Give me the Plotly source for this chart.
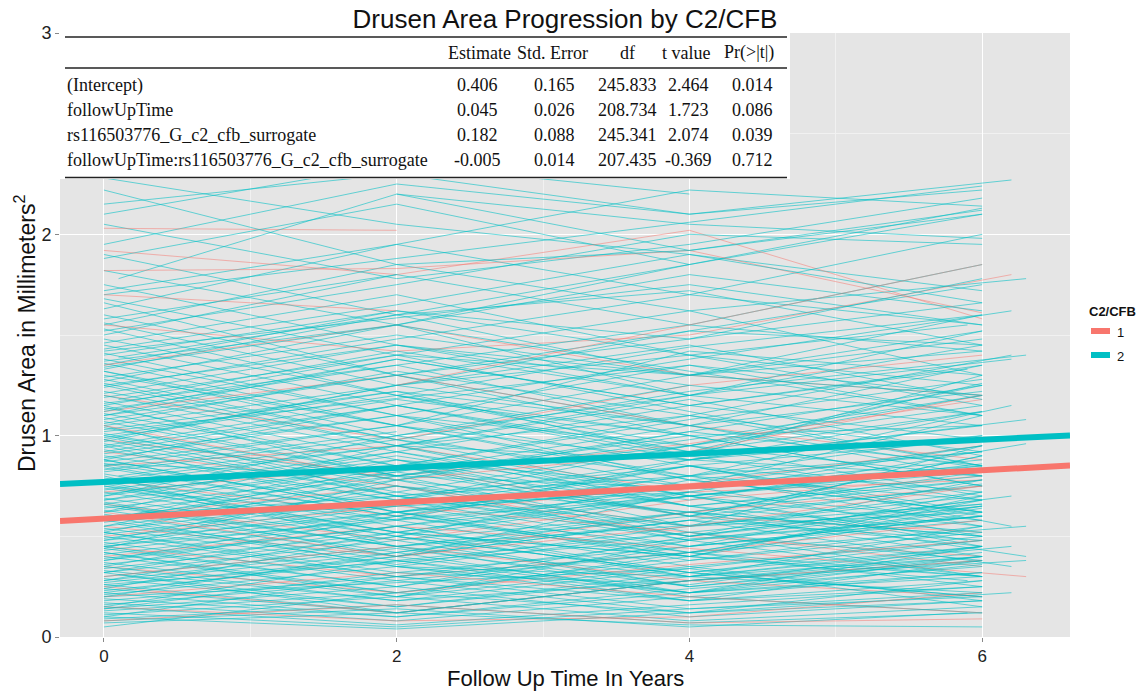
import plotly.graph_objects as go

# ---------------------------------------------------------------------------
# Visit plans (follow-up times in years) referenced by the subject records
# ---------------------------------------------------------------------------
visit_plans = {
    "a": [0, 2, 4, 6],
    "b": [0, 2, 4],
    "c": [0, 2],
    "d": [0, 2, 4, 6.2],
    "e": [0, 4, 6],
    "f": [2, 4, 6],
    "g": [0, 6],
    "h": [0.1, 2, 4, 6],
    "i": [0, 2, 6],
    "j": [0, 4],
    "k": [0, 2, 4, 6.3],
    "l": [0, 2, 4, 5.9],
}

# Drusen area (mm^2) per subject, C2/CFB = 2
teal_upper = [
    ("a", [2.28, 2.05, 1.90, 1.72]), ("a", [2.15, 2.30, 2.10, 2.22]), ("c", [2.22, 1.85]),
    ("a", [2.05, 1.78, 1.95, 2.18]), ("d", [1.95, 2.25, 2.10, 2.27]), ("a", [1.90, 1.60, 1.72, 1.45]),
    ("b", [2.10, 2.35, 2.20]), ("a", [1.88, 2.15, 1.85, 2.13]), ("a", [1.82, 1.55, 1.85, 2.10]),
    ("h", [1.78, 2.20, 1.92, 2.12]), ("a", [1.75, 1.45, 1.30, 1.48]), ("a", [1.72, 1.95, 2.22, 2.14]),
    ("g", [1.70, 2.24]), ("a", [1.68, 1.40, 1.62, 1.30]), ("i", [1.66, 1.30, 1.66]),
    ("a", [1.63, 1.95, 1.70, 2.00]), ("b", [1.60, 1.30, 1.05]), ("a", [1.58, 1.80, 1.55, 1.85]),
    ("a", [1.56, 1.25, 1.52, 1.75]), ("k", [1.55, 1.85, 1.62, 1.78]), ("a", [1.53, 1.20, 1.00, 1.05]),
    ("a", [1.52, 1.75, 2.00, 1.95]), ("c", [1.50, 1.80]), ("a", [1.48, 1.20, 1.44, 1.60]),
    ("a", [1.46, 1.70, 1.40, 1.25]), ("d", [1.45, 1.15, 1.38, 1.62]), ("a", [1.43, 1.65, 1.90, 1.66]),
    ("e", [1.42, 1.75, 1.55]), ("a", [1.41, 1.10, 1.35, 1.20]), ("a", [1.40, 1.62, 1.48, 1.78]),
    ("h", [1.39, 1.60, 1.30, 1.42]), ("a", [1.38, 1.10, 0.95, 1.20]), ("a", [1.37, 1.55, 1.80, 1.62]),
    ("a", [1.36, 1.05, 1.30, 1.52]), ("l", [1.35, 1.62, 1.40, 1.55]), ("a", [1.34, 1.55, 1.20, 1.05]),
    ("b", [1.33, 1.60, 1.85]), ("a", [1.32, 1.05, 1.42, 1.30]),
]

teal_middle = [
    ("a", [1.30, 1.05, 0.88, 1.12]), ("a", [1.29, 1.50, 1.30, 1.60]), ("k", [1.28, 0.98, 1.22, 1.40]),
    ("a", [1.27, 1.55, 1.32, 1.10]), ("a", [1.26, 0.98, 0.80, 0.92]), ("d", [1.25, 1.45, 1.20, 1.38]),
    ("a", [1.24, 1.48, 1.70, 1.55]), ("a", [1.22, 0.95, 1.18, 0.90]), ("b", [1.21, 1.45, 1.25]),
    ("a", [1.20, 0.92, 1.15, 1.35]), ("a", [1.19, 1.40, 1.12, 0.85]), ("h", [1.18, 1.42, 1.20, 1.52]),
    ("a", [1.17, 0.88, 0.75, 0.88]), ("a", [1.16, 1.35, 1.55, 1.42]), ("i", [1.15, 1.40, 1.20]),
    ("a", [1.14, 0.85, 1.08, 1.28]), ("a", [1.13, 1.35, 1.05, 0.80]), ("l", [1.12, 1.38, 1.15, 1.33]),
    ("a", [1.11, 0.85, 1.10, 0.92]), ("a", [1.10, 1.30, 1.52, 1.45]), ("c", [1.09, 0.80]),
    ("a", [1.08, 1.30, 1.00, 0.75]), ("a", [1.07, 0.80, 0.95, 0.70]), ("d", [1.06, 1.32, 1.10, 1.40]),
    ("a", [1.05, 1.25, 1.45, 1.18]), ("a", [1.04, 0.78, 1.02, 1.25]), ("a", [1.03, 1.22, 0.90, 0.68]),
    ("e", [1.02, 1.35, 1.10]), ("a", [1.01, 0.75, 0.62, 0.78]), ("a", [1.00, 1.22, 1.05, 1.35]),
    ("a", [0.99, 1.20, 0.92, 1.12]), ("h", [0.98, 0.72, 0.95, 1.15]), ("a", [0.97, 1.25, 1.40, 1.15]),
    ("a", [0.96, 0.70, 0.85, 0.60]), ("b", [0.95, 1.18, 1.00]), ("a", [0.94, 1.15, 0.92, 1.26]),
    ("a", [0.93, 0.68, 0.88, 1.05]), ("k", [0.92, 1.15, 0.88, 1.08]), ("a", [0.91, 1.10, 0.78, 0.62]),
    ("f", [1.20, 0.95, 1.25]),
]

teal_lower = [
    ("a", [0.90, 0.68, 0.95, 0.80]), ("a", [0.89, 1.10, 0.85, 0.98]), ("a", [0.88, 0.62, 0.75, 0.50]),
    ("d", [0.87, 1.05, 0.80, 1.15]), ("a", [0.86, 0.65, 0.85, 0.62]), ("a", [0.85, 1.05, 0.78, 0.92]),
    ("a", [0.84, 0.60, 0.80, 1.00]), ("c", [0.83, 1.02]), ("a", [0.82, 1.00, 0.75, 1.10]),
    ("a", [0.81, 0.58, 0.70, 0.45]), ("h", [0.80, 0.98, 0.70, 0.84]), ("a", [0.79, 0.55, 0.75, 0.95]),
    ("a", [0.78, 0.95, 0.70, 0.86]), ("b", [0.77, 0.52, 0.72]), ("a", [0.76, 0.95, 0.65, 0.52]),
    ("a", [0.75, 0.58, 0.88, 1.00]), ("l", [0.74, 0.52, 0.70, 0.48]), ("a", [0.73, 0.92, 0.65, 0.78]),
    ("a", [0.72, 0.50, 0.70, 0.85]), ("a", [0.71, 0.88, 0.60, 0.45]), ("k", [0.70, 0.90, 0.68, 0.96]),
    ("a", [0.69, 0.48, 0.62, 0.40]), ("a", [0.68, 0.85, 0.60, 0.75]), ("i", [0.67, 0.45, 0.66]),
    ("a", [0.66, 0.85, 0.55, 0.70]), ("a", [0.65, 0.45, 0.62, 0.82]), ("a", [0.64, 0.82, 0.60, 0.90]),
    ("d", [0.63, 0.42, 0.58, 0.35]), ("a", [0.62, 0.80, 0.52, 0.66]), ("a", [0.61, 0.40, 0.58, 0.76]),
    ("e", [0.60, 0.80, 0.55]), ("a", [0.59, 0.78, 0.50, 0.68]), ("a", [0.58, 0.38, 0.52, 0.30]),
    ("a", [0.57, 0.75, 0.48, 0.60]), ("h", [0.56, 0.36, 0.55, 0.72]), ("a", [0.55, 0.72, 0.50, 0.78]),
    ("a", [0.54, 0.35, 0.52, 0.38]), ("b", [0.53, 0.70, 0.48]), ("a", [0.52, 0.32, 0.45, 0.60]),
    ("a", [0.51, 0.68, 0.45, 0.58]), ("a", [0.50, 0.30, 0.48, 0.65]), ("k", [0.49, 0.66, 0.42, 0.55]),
    ("a", [0.48, 0.62, 0.40, 0.70]), ("a", [0.47, 0.28, 0.42, 0.25]), ("c", [0.46, 0.65]),
    ("a", [0.45, 0.62, 0.38, 0.52]), ("a", [0.44, 0.25, 0.45, 0.60]), ("a", [0.43, 0.60, 0.40, 0.62]),
    ("l", [0.42, 0.22, 0.40, 0.28]), ("a", [0.41, 0.58, 0.35, 0.48]), ("a", [0.40, 0.22, 0.38, 0.55]),
    ("a", [0.39, 0.55, 0.32, 0.48]), ("d", [0.38, 0.55, 0.30, 0.45]), ("a", [0.37, 0.20, 0.35, 0.18]),
    ("a", [0.36, 0.52, 0.30, 0.55]), ("i", [0.35, 0.18, 0.38]), ("a", [0.34, 0.50, 0.25, 0.40]),
    ("a", [0.33, 0.18, 0.34, 0.50]), ("a", [0.32, 0.48, 0.25, 0.38]), ("h", [0.31, 0.15, 0.32, 0.20]),
    ("a", [0.30, 0.45, 0.22, 0.36]), ("a", [0.29, 0.15, 0.30, 0.45]), ("b", [0.28, 0.44, 0.25]),
    ("a", [0.27, 0.42, 0.20, 0.32]), ("a", [0.26, 0.12, 0.28, 0.40]), ("a", [0.25, 0.40, 0.22, 0.30]),
    ("k", [0.24, 0.12, 0.28, 0.38]), ("a", [0.23, 0.38, 0.18, 0.28]), ("a", [0.22, 0.10, 0.24, 0.35]),
    ("a", [0.21, 0.35, 0.18, 0.25]), ("e", [0.20, 0.34, 0.15]), ("a", [0.19, 0.10, 0.22, 0.32]),
    ("a", [0.18, 0.30, 0.14, 0.22]), ("a", [0.17, 0.08, 0.20, 0.12]), ("d", [0.16, 0.28, 0.12, 0.22]),
    ("a", [0.15, 0.06, 0.16, 0.25]), ("a", [0.14, 0.25, 0.10, 0.18]), ("c", [0.13, 0.22]),
    ("a", [0.12, 0.05, 0.14, 0.20]), ("a", [0.11, 0.20, 0.08, 0.15]), ("a", [0.10, 0.04, 0.12, 0.18]),
    ("a", [0.09, 0.16, 0.07, 0.12]), ("l", [0.08, 0.14, 0.05, 0.12]), ("a", [0.07, 0.12, 0.06, 0.05]),
]

teal_crossing = [
    ("f", [0.62, 0.75, 0.85]), ("f", [0.35, 0.30, 0.40]), ("f", [0.95, 0.88, 0.80]),
    ("j", [0.58, 0.72]), ("j", [0.86, 0.74]), ("g", [0.26, 0.60]),
    ("a", [0.44, 0.78, 0.62, 0.50]), ("a", [0.32, 0.55, 0.70, 0.82]), ("a", [0.76, 0.52, 0.40, 0.30]),
    ("a", [0.58, 0.82, 1.05, 1.22]), ("a", [0.66, 0.45, 0.30, 0.22]), ("a", [0.22, 0.40, 0.58, 0.48]),
    ("a", [0.98, 0.70, 0.55, 0.62]), ("a", [0.52, 0.30, 0.42, 0.64]), ("a", [0.14, 0.32, 0.26, 0.45]),
    ("a", [0.88, 0.62, 0.80, 0.68]), ("f", [2.20, 2.05, 1.98]), ("f", [1.85, 1.92, 2.10]),
    ("a", [1.25, 0.95, 1.10, 0.85]), ("a", [0.35, 0.60, 0.85, 0.72]), ("a", [0.80, 0.45, 0.60, 0.90]),
    ("b", [0.62, 0.95, 1.20]), ("a", [1.05, 0.70, 0.50, 0.65]), ("a", [0.48, 0.75, 0.55, 0.95]),
    ("a", [0.28, 0.52, 0.40, 0.68]), ("d", [0.95, 0.62, 0.85, 0.55]), ("a", [0.70, 1.00, 1.25, 1.10]),
    ("a", [0.15, 0.38, 0.22, 0.45]), ("a", [1.15, 0.80, 1.00, 0.75]), ("k", [0.55, 0.85, 0.65, 0.40]),
    ("a", [0.42, 0.20, 0.48, 0.30]), ("a", [0.88, 1.15, 0.90, 1.30]), ("a", [0.24, 0.50, 0.32, 0.20]),
    ("h", [0.65, 0.40, 0.72, 0.58]), ("a", [1.32, 1.00, 1.20, 1.45]), ("a", [0.52, 0.80, 1.02, 0.85]),
    ("a", [0.10, 0.30, 0.18, 0.38]), ("a", [0.75, 0.50, 0.32, 0.45]), ("l", [0.98, 1.25, 1.05, 0.85]),
    ("a", [0.38, 0.62, 0.45, 0.72]), ("a", [0.60, 0.35, 0.22, 0.40]), ("a", [1.10, 1.38, 1.15, 0.98]),
    ("e", [0.45, 0.72, 0.95]), ("a", [0.20, 0.42, 0.62, 0.50]), ("a", [0.85, 0.60, 0.42, 0.65]),
    ("a", [0.32, 0.12, 0.28, 0.42]), ("f", [0.50, 0.78, 0.62]), ("f", [0.20, 0.42, 0.30]),
    ("a", [0.68, 0.92, 0.70, 0.55]), ("a", [0.05, 0.22, 0.12, 0.28]), ("d", [0.45, 0.25, 0.50, 0.70]),
    ("a", [1.00, 0.78, 0.98, 1.20]), ("a", [0.58, 0.88, 0.65, 0.80]),
]

# Drusen area (mm^2) per subject, C2/CFB = 1
red_subjects = [
    ("c", [2.03, 2.02]), ("a", [1.92, 1.80, 2.02, 1.58]), ("a", [1.82, 1.83, 1.92, 1.61]),
    ("d", [1.55, 1.42, 1.50, 1.80]), ("a", [1.35, 1.55, 1.30, 1.20]), ("a", [1.20, 0.98, 1.25, 1.40]),
    ("a", [1.12, 1.30, 1.05, 0.88]), ("a", [0.98, 0.80, 0.96, 1.18]), ("b", [0.92, 0.75, 0.55]),
    ("a", [0.85, 0.95, 0.72, 0.78]), ("a", [0.78, 0.60, 0.76, 0.95]), ("a", [0.72, 0.85, 0.60, 0.52]),
    ("a", [0.66, 0.48, 0.68, 0.80]), ("h", [0.60, 0.75, 0.50, 0.40]), ("a", [0.55, 0.40, 0.62, 0.75]),
    ("a", [0.50, 0.65, 0.52, 0.35]), ("a", [0.45, 0.30, 0.42, 0.58]), ("k", [0.40, 0.55, 0.44, 0.30]),
    ("a", [0.35, 0.22, 0.36, 0.48]), ("a", [0.30, 0.45, 0.28, 0.20]), ("a", [0.25, 0.12, 0.28, 0.38]),
    ("a", [0.20, 0.32, 0.20, 0.12]), ("a", [0.15, 0.08, 0.10, 0.22]), ("a", [0.08, 0.16, 0.07, 0.09]),
    ("c", [1.70, 1.62]), ("f", [1.25, 1.55, 1.85]), ("a", [0.62, 0.40, 0.55, 0.75]),
    ("a", [1.05, 0.78, 0.92, 1.20]),
]

# Mixed-model coefficient table
table_terms = ["(Intercept)", "followUpTime", "rs116503776_G_c2_cfb_surrogate",
               "followUpTime:rs116503776_G_c2_cfb_surrogate"]
table_estimate = [0.406, 0.045, 0.182, -0.005]
table_std_error = [0.165, 0.026, 0.088, 0.014]
table_df = [245.833, 208.734, 245.341, 207.435]
table_t_value = [2.464, 1.723, 2.074, -0.369]
table_p_value = [0.014, 0.086, 0.039, 0.712]
table_header = ["Estimate", "Std. Error", "df", "t value", "Pr(>|t|)"]

groups = ["1", "2"]
group_colors = {"1": "#F8766D", "2": "#00BFC4"}
thin_colors = {"1": "rgba(248,118,109,0.50)", "2": "rgba(0,191,196,0.58)"}

x_range = [-0.30, 6.60]
y_range = [0, 3]

fig = go.Figure()

# Subject trajectories; red subjects are spread through the teal ones in drawing order
teal_all = teal_upper + teal_middle + teal_lower + teal_crossing
ordered = []
ri = 0
red_every = max(1, len(teal_all) // len(red_subjects))
for i, subj in enumerate(teal_all):
    ordered.append(("2", subj))
    if (i + 1) % red_every == 0 and ri < len(red_subjects):
        ordered.append(("1", red_subjects[ri]))
        ri += 1
while ri < len(red_subjects):
    ordered.append(("1", red_subjects[ri]))
    ri += 1

for grp, (plan, areas) in ordered:
    fig.add_trace(go.Scatter(
        x=visit_plans[plan], y=areas, mode="lines",
        line=dict(color=thin_colors[grp], width=1),
        showlegend=False, hoverinfo="skip",
    ))

# Fitted population lines per genotype group from the coefficient table
for grp in groups:
    code = int(grp)
    intercept = table_estimate[0] + table_estimate[2] * code
    slope = table_estimate[1] + table_estimate[3] * code
    fig.add_trace(go.Scatter(
        x=x_range, y=[intercept + slope * x for x in x_range], mode="lines",
        line=dict(color=group_colors[grp], width=6),
        showlegend=False, hoverinfo="skip",
    ))

# Geometry of the plotting panel in pixels
W, H = 1147, 694
L, R, T, B = 60, 77, 33, 57
pw, ph = W - L - R, H - T - B


def px(xp):
    return (xp - L) / pw


def py(yp):
    return (H - B - yp) / ph


shapes = []
annotations = []

# Coefficient table with white backing
shapes.append(dict(type="rect", xref="paper", yref="paper",
                   x0=px(L), x1=px(790), y0=py(179), y1=py(T),
                   fillcolor="white", line=dict(width=0), layer="above"))
for yl in (37, 68, 177.5):
    shapes.append(dict(type="line", xref="paper", yref="paper",
                       x0=px(65), x1=px(787), y0=py(yl), y1=py(yl),
                       line=dict(color="#222222", width=1.5), layer="above"))

serif = "Liberation Serif, Times New Roman, serif"
tfont = dict(family=serif, size=18, color="#111111")
header_x = [479, 552, 627, 686, 749]
value_x = [477, 554, 627, 688, 752]
row_y = [85, 110, 135, 160]

for hx, label in zip(header_x, table_header):
    annotations.append(dict(xref="paper", yref="paper", x=px(hx), y=py(53),
                            text=label, showarrow=False, xanchor="center",
                            yanchor="middle", font=tfont))
for r, term in enumerate(table_terms):
    annotations.append(dict(xref="paper", yref="paper", x=px(65), y=py(row_y[r]),
                            text=term, showarrow=False, xanchor="left",
                            yanchor="middle", font=tfont))
    cells = [f"{table_estimate[r]:.3f}", f"{table_std_error[r]:.3f}",
             f"{table_df[r]:.3f}", f"{table_t_value[r]:.3f}", f"{table_p_value[r]:.3f}"]
    for cx, cell in zip(value_x, cells):
        annotations.append(dict(xref="paper", yref="paper", x=px(cx), y=py(row_y[r]),
                                text=cell, showarrow=False, xanchor="center",
                                yanchor="middle", font=tfont))

sans = "Liberation Sans, Arial, sans-serif"

# Axis titles
annotations.append(dict(xref="paper", yref="paper", x=px(565), y=py(678),
                        text="Follow Up Time In Years", showarrow=False,
                        xanchor="center", yanchor="middle",
                        font=dict(family=sans, size=22, color="#111111")))
annotations.append(dict(xref="paper", yref="paper", x=px(25), y=py(334),
                        text="Drusen Area in Millimeters<sup>2</sup>", showarrow=False,
                        textangle=-90, xanchor="center", yanchor="middle",
                        font=dict(family=sans, size=23, color="#111111")))

# Legend
annotations.append(dict(xref="paper", yref="paper", x=px(1087), y=py(311),
                        text="<b>C2/CFB</b>", showarrow=False, xanchor="left",
                        yanchor="middle", font=dict(family=sans, size=13, color="#111111")))
for grp, yc in zip(groups, (331, 355)):
    shapes.append(dict(type="rect", xref="paper", yref="paper",
                       x0=px(1091), x1=px(1110), y0=py(yc + 3), y1=py(yc - 3),
                       fillcolor=group_colors[grp], line=dict(width=0)))
    annotations.append(dict(xref="paper", yref="paper", x=px(1115), y=py(yc + 1),
                            text=grp, showarrow=False, xanchor="left", yanchor="middle",
                            font=dict(family=sans, size=13, color="#111111")))

fig.update_layout(
    width=W, height=H,
    margin=dict(l=L, r=R, t=T, b=B, pad=0, autoexpand=False),
    paper_bgcolor="white",
    plot_bgcolor="#E5E5E5",
    font=dict(family=sans, color="#111111"),
    title=dict(text="Drusen Area Progression by C2/CFB", x=px(565), xref="paper",
               xanchor="center", y=1 - 19 / H, yref="container", yanchor="middle",
               font=dict(family=sans, size=26, color="#111111")),
    shapes=shapes,
    annotations=annotations,
    showlegend=False,
    xaxis=dict(
        range=x_range, tickvals=[0, 2, 4, 6], showgrid=True, gridcolor="white",
        gridwidth=1.3, zeroline=False, showline=False, ticks="outside", ticklen=4,
        tickcolor="#888888", tickfont=dict(size=17, color="#222222"), automargin=False,
        ticklabelstandoff=0,
        minor=dict(dtick=1, tick0=0, showgrid=True, gridcolor="#F1F1F1", gridwidth=0.6),
    ),
    yaxis=dict(
        range=y_range, tickvals=[0, 1, 2, 3], showgrid=True, gridcolor="white",
        gridwidth=1.3, zeroline=False, showline=False, ticks="outside", ticklen=4,
        tickcolor="#888888", tickfont=dict(size=18, color="#222222"), automargin=False,
        minor=dict(dtick=0.5, tick0=0, showgrid=True, gridcolor="#F1F1F1", gridwidth=0.6),
    ),
)

fig.write_html("out.html")
